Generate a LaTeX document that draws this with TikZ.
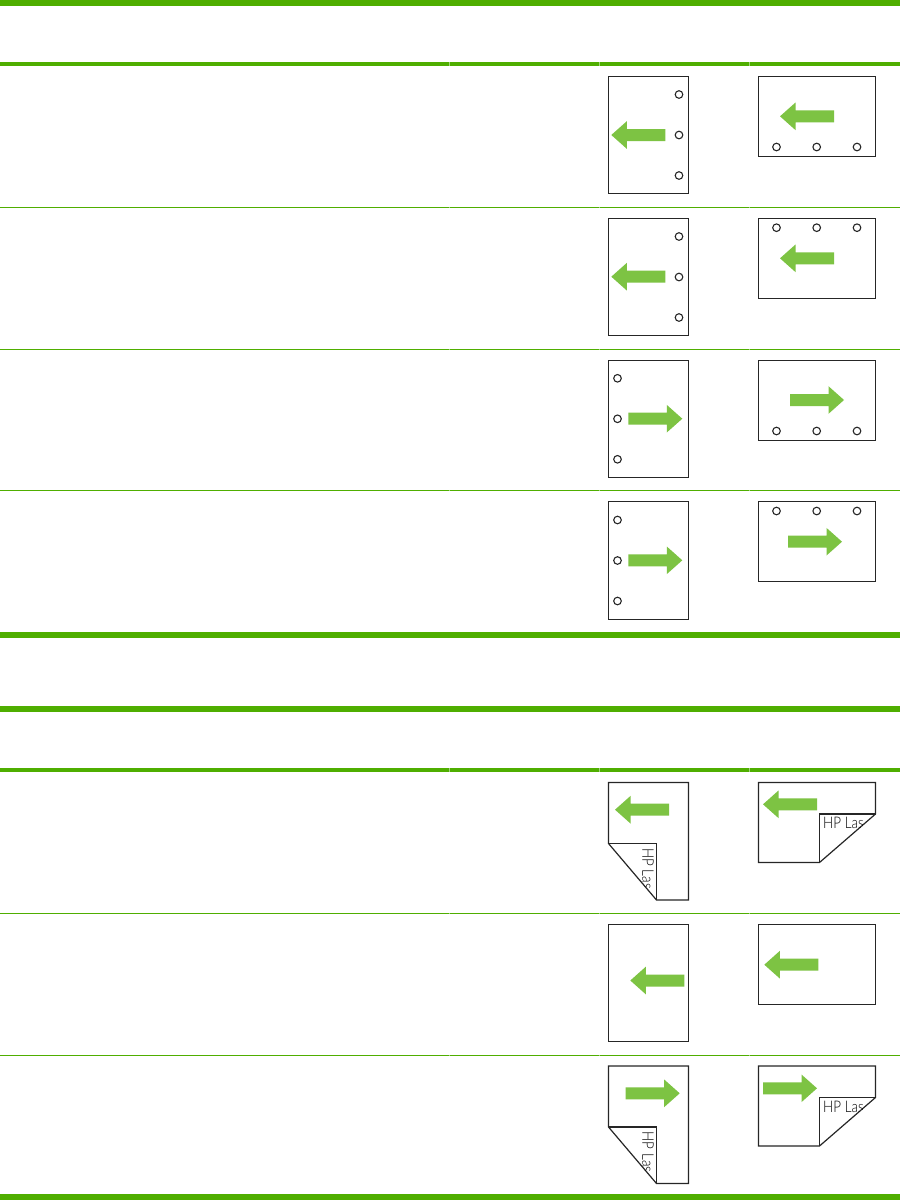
\documentclass[tikz,border=0pt]{standalone}
\usepackage{fontspec}
\usepackage{tikz}
\newfontfamily\brandfont[FakeStretch=0.84]{Lato Light}
\definecolor{rulegreen}{HTML}{4FAE00}
\definecolor{arrowgreen}{HTML}{7DC343}
\tikzset{
	thickrule/.style={fill=rulegreen},
	rowrule/.style={draw=rulegreen,line width=1pt},
	coltick/.style={draw=arrowgreen!70!white,line width=0.8pt},
	sheet/.style={draw=black!85,line width=1.2pt,fill=white},
	foldline/.style={draw=black!85,line width=1.2pt},
	hole/.style={draw=black!85,line width=1.1pt,fill=white},
	pagearrow/.style={fill=arrowgreen},
	brand/.style={inner sep=0pt,font=\brandfont\fontsize{16}{16}\selectfont,text=black}
}
\begin{document}
\begin{tikzpicture}[x=1pt,y=-1pt]
	\useasboundingbox (0,0) rectangle (900,1200);

	% arrows: back end of shaft, y of the axis, length 54
	\def\arrowleft#1#2{\fill[pagearrow] (#1,#2-6) -- ++(-38.5,0) -- ++(0,-7.8) -- ++(-15.5,13.8) -- ++(15.5,13.8) -- ++(0,-7.8) -- ++(38.5,0) -- cycle;}
	\def\arrowright#1#2{\fill[pagearrow] (#1,#2-6) -- ++(38.5,0) -- ++(0,-7.8) -- ++(15.5,13.8) -- ++(-15.5,13.8) -- ++(0,-7.8) -- ++(-38.5,0) -- cycle;}
	% upright sheet and lying sheet, by their top left corner
	\def\tallsheet#1{\draw[sheet] (608.5,#1) rectangle ++(80,117.2);}
	\def\widesheet#1{\draw[sheet] (758.5,#1) rectangle ++(117,80);}
	\def\tallholes#1#2{\draw[hole] (#1,#2+18) circle (3.8);\draw[hole] (#1,#2+58.5) circle (3.8);\draw[hole] (#1,#2+99) circle (3.8);}
	\def\wideholes#1{\draw[hole] (776.5,#1) circle (3.8);\draw[hole] (816.7,#1) circle (3.8);\draw[hole] (857,#1) circle (3.8);}
	% sheets with the turned corner
	\def\tallfold#1{
		\draw[sheet] (608.5,#1) -- ++(80,0) -- ++(0,117.5) -- ++(-32,0) -- ++(-48,-56.5) -- cycle;
		\begin{scope}
			\clip (608.5,#1+61) -- ++(48,0) -- ++(0,56.5) -- cycle;
			\node[brand,rotate=-90,anchor=north west] (tallbrand#1) at (653.8,#1+65.5) {HP Las};
		\end{scope}
		\draw[foldline] (608.5,#1+61) -- ++(48,0) -- ++(0,56.5);
	}
	\def\widefold#1{
		\draw[sheet] (758.5,#1) -- ++(117,0) -- ++(0,31.5) -- ++(-56,48.5) -- ++(-61,0) -- cycle;
		\begin{scope}
			\clip (819.5,#1+31.5) -- ++(56,0) -- ++(-56,48.5) -- cycle;
			\node[brand,anchor=north west] (widebrand#1) at (823,#1+34.5) {HP Las};
		\end{scope}
		\draw[foldline] (875.5,#1+31.5) -- ++(-56,0) -- ++(0,48.5);
	}
	% light marks where the columns meet a rule
	\def\colticks#1#2{\draw[coltick] (449.5,#1) -- (449.5,#2);\draw[coltick] (599.5,#1) -- (599.5,#2);\draw[coltick] (749.5,#1) -- (749.5,#2);}

	% green rules
	\fill[thickrule] (0,0) rectangle (899.5,6);
	\fill[thickrule] (0,62) rectangle (899.5,66);
	\draw[rowrule] (0,207.2) -- (899.5,207.2);
	\draw[rowrule] (0,349.3) -- (899.5,349.3);
	\draw[rowrule] (0,490.3) -- (899.5,490.3);
	\fill[thickrule] (0,632) rectangle (899.5,638);
	\fill[thickrule] (0,706) rectangle (899.5,712);
	\fill[thickrule] (0,768) rectangle (899.5,772);
	\draw[rowrule] (0,913.3) -- (899.5,913.3);
	\draw[rowrule] (0,1055.3) -- (899.5,1055.3);
	\fill[thickrule] (0,1194) rectangle (899.5,1200);

	\colticks{62}{66}
	\colticks{206.7}{207.7}
	\colticks{348.8}{349.8}
	\colticks{489.8}{490.8}
	\colticks{768}{772}
	\colticks{912.8}{913.8}
	\colticks{1054.8}{1055.8}

	% punched sheets
	\tallsheet{76.5} \tallholes{679}{76.5} \arrowleft{665.3}{135}
	\widesheet{76.5} \wideholes{147} \arrowleft{834}{116.3}

	\tallsheet{218.5} \tallholes{679}{218.5} \arrowleft{665.3}{276.7}
	\widesheet{218.5} \wideholes{227.7} \arrowleft{834}{258.3}

	\tallsheet{360.3} \tallholes{617.5}{360.3} \arrowright{628.3}{418.7}
	\widesheet{360.3} \wideholes{431} \arrowright{790}{400}

	\draw[sheet] (608.5,501.4) rectangle ++(80,118);
	\tallholes{617.5}{502} \arrowright{628.3}{560.3}
	\widesheet{501.4} \wideholes{511} \arrowright{788}{541.7}

	% stapled sheets
	\tallfold{782.5} \arrowleft{669}{809.7}
	\widefold{782.5} \arrowleft{817}{804.3}

	\tallsheet{924.4} \arrowleft{684.3}{980.5}
	\widesheet{924.4} \arrowleft{818.3}{964.7}

	\tallfold{1066} \arrowright{625.7}{1093.3}
	\widefold{1066} \arrowright{763}{1088.3}
\end{tikzpicture}
\end{document}
